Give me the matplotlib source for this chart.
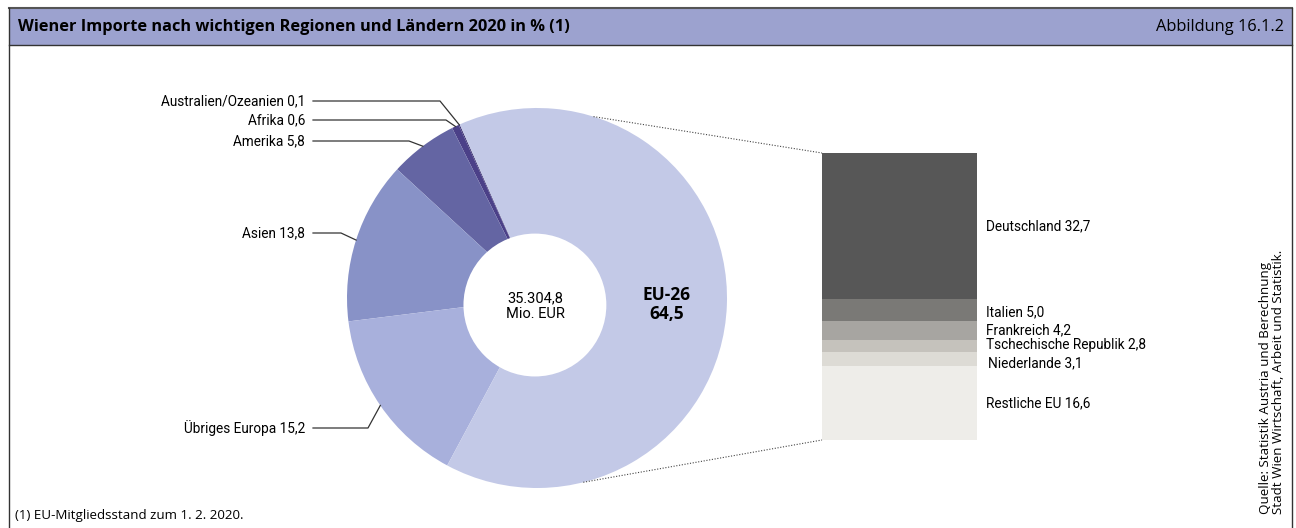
import numpy as np
import matplotlib
matplotlib.use("Agg")
import matplotlib.pyplot as plt
from matplotlib import font_manager as fm
from matplotlib.patches import Rectangle, Circle

# ---------------- data ----------------
regions = ["Australien/Ozeanien", "Afrika", "Amerika", "Asien", "Übriges Europa", "EU-26"]
region_values = [0.1, 0.6, 5.8, 13.8, 15.2, 64.5]
region_labels = ["Australien/Ozeanien 0,1", "Afrika 0,6", "Amerika 5,8", "Asien 13,8",
                 "Übriges Europa 15,2", "EU-26\n64,5"]
region_colors = ["#3b3170", "#4b4088", "#6465a3", "#8892c7", "#a8b0dc", "#c3c9e7"]

eu_countries = ["Deutschland", "Italien", "Frankreich", "Tschechische Republik", "Niederlande", "Restliche EU"]
eu_values = [32.7, 5.0, 4.2, 2.8, 3.1, 16.6]
eu_labels = ["Deutschland 32,7", "Italien 5,0", "Frankreich 4,2", "Tschechische Republik 2,8",
             "Niederlande 3,1", "Restliche EU 16,6"]
eu_colors = ["#575757", "#7a7976", "#a7a5a1", "#c5c2bc", "#dddbd5", "#eeede9"]

total_text = "35.304,8\nMio. EUR"
title = "Wiener Importe nach wichtigen Regionen und Ländern 2020 in % (1)"
fig_no = "Abbildung 16.1.2"
footnote = "(1) EU-Mitgliedsstand zum 1. 2. 2020."
source = "Quelle: Statistik Austria und Berechnung\nStadt Wien Wirtschaft, Arbeit und Statistik."

# ---------------- fonts ----------------
def has_font(name):
    try:
        fm.findfont(fm.FontProperties(family=name), fallback_to_default=False)
        return True
    except Exception:
        return False

cond = "Liberation Sans Narrow" if has_font("Liberation Sans Narrow") else "Roboto"
LBL = [cond, "DejaVu Sans"]
OS = ["Open Sans", "DejaVu Sans"]
LS = 9.8

W, H = 1296, 528
fig = plt.figure(figsize=(W / 100, H / 100), dpi=100)

def rect(x0, y0, x1, y1):
    return [x0 / W, (H - y1) / H, (x1 - x0) / W, (y1 - y0) / H]

# overlay in pixel coords
ov = fig.add_axes([0, 0, 1, 1])
ov.set_xlim(0, W)
ov.set_ylim(H, 0)
ov.axis("off")
ov.set_zorder(5)

# header band and frame
XR = 1292
ov.add_patch(Rectangle((9, 8), XR - 9, 37, facecolor="#9ca2cf", edgecolor="none"))
ov.plot([9, XR], [8, 8], color="#555555", lw=1.5)
ov.plot([9, XR], [45, 45], color="#333333", lw=1.0)
ov.plot([9, 9], [8, 528], color="#333333", lw=1.0)
ov.plot([XR, XR], [8, 528], color="#333333", lw=1.0)
ov.text(18, 27, title, fontsize=11.8, fontweight="bold", family=OS, va="center", ha="left")
ov.text(1284, 27, fig_no, fontsize=11.8, family=OS, va="center", ha="right")
ov.text(15, 516, footnote, fontsize=9.6, family=OS, va="center", ha="left")
ov.text(1272, 514, source, fontsize=9.6, family=OS, rotation=90, va="bottom", ha="center",
        linespacing=1.0, multialignment="left")

# ---------------- donut ----------------
pa = fig.add_axes(rect(347, 108, 727, 488))
start = 114
wedges, _ = pa.pie(region_values, colors=region_colors, startangle=start, counterclock=True,
                   radius=1.0, wedgeprops=dict(width=0.7, linewidth=0))
pa.set_xlim(-1, 1)
pa.set_ylim(-1, 1)
pa.set_aspect("auto")
pa.axis("off")
pa.add_patch(Circle((-0.011, -0.037), 0.376, facecolor="white", edgecolor="none", zorder=3))
pa.text(-0.01, -0.045, total_text, ha="center", va="center", fontsize=10.5, family=LBL,
        linespacing=1.15, zorder=4)
pa.text(0.68, -0.035, region_labels[-1], ha="center", va="center", fontsize=12.5, fontweight="bold",
        family=OS, linespacing=1.05)

def to_ov(ax, pt):
    return ov.transData.inverted().transform(ax.transData.transform(pt))

label_y = [101, 120, 141, 233, 428]
elbow_x = [440, 446, 409, 341, 368]
for i in range(5):
    w = wedges[i]
    mid = np.deg2rad((w.theta1 + w.theta2) / 2)
    ex, ey = to_ov(pa, (np.cos(mid) * 1.0, np.sin(mid) * 1.0))
    y = label_y[i]
    ov.plot([313, elbow_x[i], ex], [y, y, ey], color="#333333", lw=0.9)
    ov.text(305, y, region_labels[i], ha="right", va="center", fontsize=LS, family=LBL)

# ---------------- EU stacked bar ----------------
ba = fig.add_axes(rect(822, 153, 977, 440))
tot = sum(eu_values)
bottoms = []
b = tot
for v in eu_values:
    b -= v
    bottoms.append(b)
ba.bar([0] * len(eu_values), eu_values, bottom=bottoms, color=eu_colors, width=1.0, linewidth=0)
ba.set_xlim(-0.5, 0.5)
ba.set_ylim(0, tot)
ba.axis("off")
offs = [(6.5, 0), (6.5, -1.5), (6.5, 0), (6.5, 1), (8, -3), (6.5, 0)]
for v, bt, lab, (dx, dy) in zip(eu_values, bottoms, eu_labels, offs):
    ba.annotate(lab, xy=(1, bt + v / 2), xycoords=("axes fraction", "data"),
                xytext=(dx, dy), textcoords="offset points", ha="left", va="center",
                fontsize=LS, family=LBL)

# dotted connectors
for ang, yb in [(72.7, tot), (-75.9, 0)]:
    a = np.deg2rad(ang)
    p0 = to_ov(pa, (np.cos(a), np.sin(a)))
    p1 = to_ov(ba, (-0.5, yb))
    ov.plot([p0[0], p1[0]], [p0[1], p1[1]], color="#444444", lw=0.8, ls=(0, (1, 1.5)))

fig.savefig("out.png", dpi=100)
